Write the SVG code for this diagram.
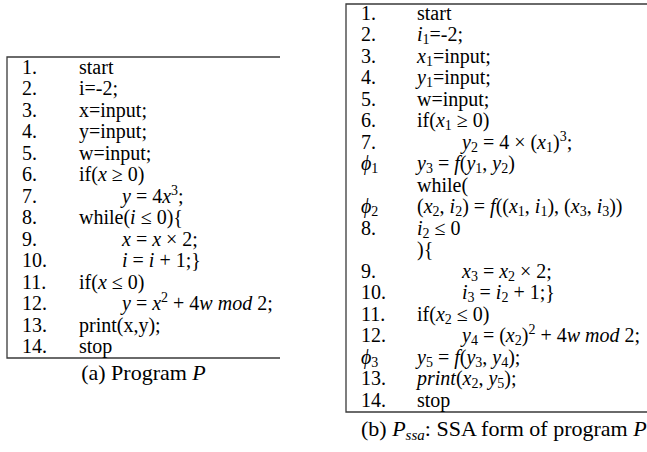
<svg xmlns="http://www.w3.org/2000/svg" width="647" height="452" viewBox="0 0 647 452">
  <style>
    text { font-family: "Liberation Serif", "Times New Roman", serif; font-size: 20px; fill: #000; }
    .m { font-style: italic; }
    .sub { font-size: 14px; baseline-shift: -3px; font-style: normal; }
    .sup { font-size: 14px; baseline-shift: 8px; font-style: normal; }
    .cap { font-size: 22px; }
    .frame { fill: none; stroke: #3a3a3a; stroke-width: 1.3; }
  </style>

  <!-- (a) original program listing -->
  <g id="program-p">
    <path class="frame" d="M280,57 H7 V358 H280"/>
    <g id="p-numbers">
      <text x="22" y="73.5">1.</text>
      <text x="22" y="95">2.</text>
      <text x="22" y="116.5">3.</text>
      <text x="22" y="138">4.</text>
      <text x="22" y="159.5">5.</text>
      <text x="22" y="181">6.</text>
      <text x="22" y="202.5">7.</text>
      <text x="22" y="224">8.</text>
      <text x="22" y="245.5">9.</text>
      <text x="22" y="267">10.</text>
      <text x="22" y="288.5">11.</text>
      <text x="22" y="310">12.</text>
      <text x="22" y="331.5">13.</text>
      <text x="22" y="353">14.</text>
    </g>
    <g id="p-code">
      <text x="79" y="73.5">start</text>
      <text x="79" y="95">i=-2;</text>
      <text x="79" y="116.5">x=input;</text>
      <text x="79" y="138">y=input;</text>
      <text x="79" y="159.5">w=input;</text>
      <text x="79" y="181">if(<tspan class="m">x</tspan> ≥ 0)</text>
      <text x="122" y="202.5"><tspan class="m">y</tspan> = 4<tspan class="m">x</tspan><tspan class="sup">3</tspan>;</text>
      <text x="79" y="224">while(<tspan class="m">i</tspan> ≤ 0){</text>
      <text x="122" y="245.5"><tspan class="m">x</tspan> = <tspan class="m">x</tspan> × 2;</text>
      <text x="122" y="267"><tspan class="m">i</tspan> = <tspan class="m">i</tspan> + 1;}</text>
      <text x="79" y="288.5">if(<tspan class="m">x</tspan> ≤ 0)</text>
      <text x="122" y="310"><tspan class="m">y</tspan> = <tspan class="m">x</tspan><tspan class="sup">2</tspan> + 4<tspan class="m">w mod</tspan> 2;</text>
      <text x="79" y="331.5">print(x,y);</text>
      <text x="79" y="353">stop</text>
    </g>
    <text class="cap" x="143.5" y="380" text-anchor="middle">(a) Program <tspan class="m">P</tspan></text>
  </g>

  <!-- (b) SSA form of the same program -->
  <g id="program-pssa">
    <path class="frame" d="M647,4 H346 V412 H647"/>
    <g id="ssa-numbers">
      <text x="361" y="19.5">1.</text>
      <text x="361" y="41">2.</text>
      <text x="361" y="62.5">3.</text>
      <text x="361" y="84">4.</text>
      <text x="361" y="105.5">5.</text>
      <text x="361" y="127">6.</text>
      <text x="361" y="148.5">7.</text>
      <text x="361" y="170" class="m">ϕ<tspan class="sub">1</tspan></text>
      <text x="361" y="213" class="m">ϕ<tspan class="sub">2</tspan></text>
      <text x="361" y="234.5">8.</text>
      <text x="361" y="277.5">9.</text>
      <text x="361" y="299">10.</text>
      <text x="361" y="320.5">11.</text>
      <text x="361" y="342">12.</text>
      <text x="361" y="363.5" class="m">ϕ<tspan class="sub">3</tspan></text>
      <text x="361" y="385">13.</text>
      <text x="361" y="406.5">14.</text>
    </g>
    <g id="ssa-code">
      <text x="417" y="19.5">start</text>
      <text x="417" y="41"><tspan class="m">i</tspan><tspan class="sub">1</tspan>=-2;</text>
      <text x="417" y="62.5"><tspan class="m">x</tspan><tspan class="sub">1</tspan>=input;</text>
      <text x="417" y="84"><tspan class="m">y</tspan><tspan class="sub">1</tspan>=input;</text>
      <text x="417" y="105.5">w=input;</text>
      <text x="417" y="127">if(<tspan class="m">x</tspan><tspan class="sub">1</tspan> ≥ 0)</text>
      <text x="462" y="148.5"><tspan class="m">y</tspan><tspan class="sub">2</tspan> = 4 × (<tspan class="m">x</tspan><tspan class="sub">1</tspan>)<tspan class="sup">3</tspan>;</text>
      <text x="417" y="170"><tspan class="m">y</tspan><tspan class="sub">3</tspan> = <tspan class="m">f</tspan>(<tspan class="m">y</tspan><tspan class="sub">1</tspan>, <tspan class="m">y</tspan><tspan class="sub">2</tspan>)</text>
      <text x="417" y="191.5">while(</text>
      <text x="417" y="213">(<tspan class="m">x</tspan><tspan class="sub">2</tspan>, <tspan class="m">i</tspan><tspan class="sub">2</tspan>) = <tspan class="m">f</tspan>((<tspan class="m">x</tspan><tspan class="sub">1</tspan>, <tspan class="m">i</tspan><tspan class="sub">1</tspan>), (<tspan class="m">x</tspan><tspan class="sub">3</tspan>, <tspan class="m">i</tspan><tspan class="sub">3</tspan>))</text>
      <text x="417" y="234.5"><tspan class="m">i</tspan><tspan class="sub">2</tspan> ≤ 0</text>
      <text x="417" y="256">){</text>
      <text x="462" y="277.5"><tspan class="m">x</tspan><tspan class="sub">3</tspan> = <tspan class="m">x</tspan><tspan class="sub">2</tspan> × 2;</text>
      <text x="462" y="299"><tspan class="m">i</tspan><tspan class="sub">3</tspan> = <tspan class="m">i</tspan><tspan class="sub">2</tspan> + 1;}</text>
      <text x="417" y="320.5">if(<tspan class="m">x</tspan><tspan class="sub">2</tspan> ≤ 0)</text>
      <text x="462" y="342"><tspan class="m">y</tspan><tspan class="sub">4</tspan> = (<tspan class="m">x</tspan><tspan class="sub">2</tspan>)<tspan class="sup">2</tspan> + 4<tspan class="m">w mod</tspan> 2;</text>
      <text x="417" y="363.5"><tspan class="m">y</tspan><tspan class="sub">5</tspan> = <tspan class="m">f</tspan>(<tspan class="m">y</tspan><tspan class="sub">3</tspan>, <tspan class="m">y</tspan><tspan class="sub">4</tspan>);</text>
      <text x="417" y="385"><tspan class="m">print</tspan>(<tspan class="m">x</tspan><tspan class="sub">2</tspan>, <tspan class="m">y</tspan><tspan class="sub">5</tspan>);</text>
      <text x="417" y="406.5">stop</text>
    </g>
    <text class="cap" x="361" y="436">(b) <tspan class="m">P</tspan><tspan class="m" font-size="15" baseline-shift="-4">ssa</tspan>: SSA form of program <tspan class="m">P</tspan></text>
  </g>
</svg>
